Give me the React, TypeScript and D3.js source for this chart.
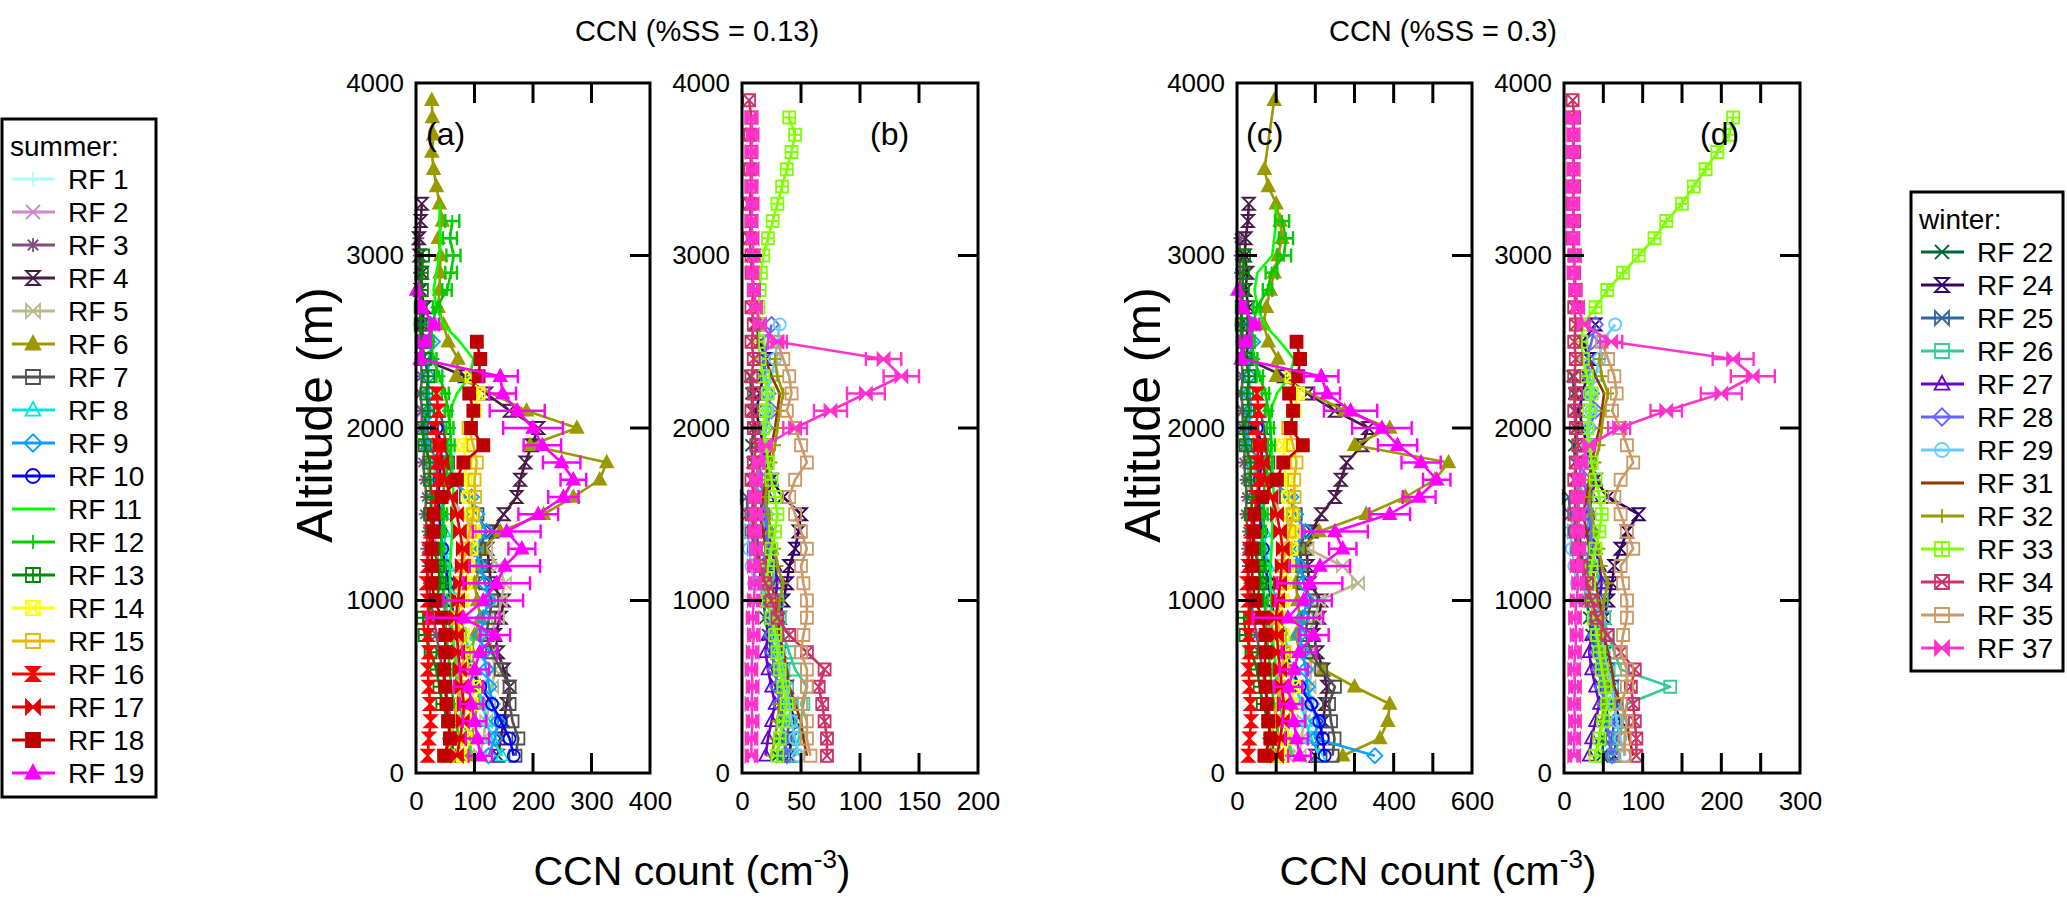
import * as d3 from "d3";
import { useRef, useEffect } from "react";

// altitude bins (m), every series below starts at the first bin
const ALT = [100, 200, 300, 400, 500, 600, 700, 800, 900, 1000, 1100, 1200, 1300, 1400, 1500, 1600, 1700, 1800, 1900, 2000,
  2100, 2200, 2300, 2400, 2500, 2600, 2700, 2800, 2900, 3000, 3100, 3200, 3300, 3400, 3500, 3600, 3700, 3800, 3900];

const summerNames = ["RF 1", "RF 2", "RF 3", "RF 4", "RF 5", "RF 6", "RF 7", "RF 8", "RF 9", "RF 10",
  "RF 11", "RF 12", "RF 13", "RF 14", "RF 15", "RF 16", "RF 17", "RF 18", "RF 19"];
const winterNames = ["RF 22", "RF 24", "RF 25", "RF 26", "RF 27", "RF 28", "RF 29", "RF 31", "RF 32", "RF 33", "RF 34", "RF 35", "RF 37"];

// ---- summer, %SS = 0.13 (panel a)
const rf1_013 = [60, 65, 70, 75, 72, 70, 68, 65, 60, 55, 50, 48, 45, 40, 38, 35, 30, 28];
const rf2_013 = [90, 95, 85, 80, 75, 70, 68, 60, 55, 50, 45, 40, 35, 30, 28, 25, 22, 20, 18, 15, 12];
const rf3_013 = [50, 55, 60, 55, 50, 45, 40, 35, 30, 25, 22, 20, 18, 20, 15, 18, 15, 12, 15, 10, 10, 8, 10, 8, 8, 6, 8, 6, 5, 5, 4];
const rf4_013 = [140, 145, 150, 155, 160, 150, 140, 135, 145, 150, 128, 125, 122, 130, 150, 172, 178, 187, 198, 209, 160, 120, 84, 10, 12, 10, 15, 8, 10, 6, 5, 8, 10];
const rf5_013 = [110, 115, 120, 125, 130, 135, 130, 125, 140, 145, 152, 141, 120, 100, 80, 60, 50, 45, 40, 35];
const rf6_013 = [90, 95, 100, 105, 110, 100, 95, 100, 110, 105, 100, 110, 112, 144, 218, 269, 314, 326, 195, 275, 189, null, 69, 72, 55, 47, 38, 40, 41, 42, 38, 45, 40, 35, 30, 27, 30, 28, 27];
const rf7_013 = [170, 175, 165, 160, 160, 145, 130, 120, 125, 130, 118, 112, 108, 121, 105, 85, 65, 55, 50, 48, 40];
const rf8_013 = [147, 130, 120, 115, 105, 95, 90, 85, 75, 70, 60, 55, 50, 48, 45, 40, 35, 30];
const rf9_013 = [124, 135, 140, 130, 125, 120, 115, 110, 115, 125, 118, 110, 100, 120, 104, 95, 60, 40, 20, 18, 25, 22, 20, 22, 28, 25];
const rf10_013 = [167, 160, 145, 130, 110, 95, 85, 75, 65, 60, 55, 50, 45, 42, 40, 38, 40, 42, 44, 35];
const rf11_013 = [95, 90, 80, 75, 70, 68, 65, 62, 60, 60, 58, 58, 60, 62, 61, 64, 63, 61, 60, 58, 58, 70, 92, 98, 75, 47, 35, 30, 35, 40, 42, 40, 41];
const rf12_013 = [75, 72, 70, 65, 60, 58, 55, 52, 50, 48, 45, 45, 42, 45, 48, 45, 50, 55, 60, 58, 55, 50, 40, 30, 25, 28, 35, 53, 60, 64, 58, 62];
const rf12e_013 = [6, 6, 6, 6, 6, 5, 5, 5, 5, 5, 5, 5, 5, 5, 5, 5, 6, 6, 6, 6, 6, 6, 5, 5, 5, 5, 6, 8, 10, 12, 12, 12];
const rf13_013 = [65, 60, 55, 45, 40, 35, 25, 15, 12, 35, 41, 38, 30, 27, 24, 27, 24, 24, 15, 10, 21, 18, 21, 15, 10, 8, 8, 10, 10, 12];
const rf14_013 = [80, 85, 90, 95, 100, 90, 85, 80, 75, 80, 85, 90, 95, 100, 95, 90, 85, 85, 81, 90, 100, 107, 95];
const rf15_013 = [55, 60, 65, 70, 75, 80, 82, 75, 70, 72, 75, 80, 85, 92, 98, 101, 100, 104, 98, 90];
const rf16_013 = [20, 22, 25, 24, 22, 20, 22, 20, 21, 20, 18, 20, 22, 25, 30, 35, 38, 35, 38, 32, 38, 35];
const rf17_013 = [70, 75, 80, 82, 78, 75, 72, 70, 68, 72, 75, 78, 80, 75, 70, 60, 50, 45, 40];
const rf18_013 = [48, 58, 55, 52, 50, 48, 50, 50, 44, 32, 27, 27, 27, 30, 30, 44, 70, 81, 115, 94, 98, 91, 107, 110, 104];
const rf19_013 = [110, 105, 100, 95, 90, 100, 109, 135, 81, 115, 138, 152, 181, 155, 209, 252, 269, 249, 216, 200, 173, 148, 144, 7, 15, 31, 10, 1];
const rf19e_013 = [20, 20, 20, 20, 25, 25, 30, 26, 62, 68, 57, 60, 23, 58, 34, 26, 22, 32, 32, 51, 47, 23, 30, 5, 10, 8, 5, 5];

// ---- summer, %SS = 0.3 (panel c)
const rf1_030 = [85, 95, 100, 105, 100, 98, 95, 90, 85, 78, 70, 68, 62, 55, 52, 48, 42, 40];
const rf2_030 = [130, 135, 120, 115, 108, 100, 95, 85, 78, 70, 62, 56, 50, 42, 40, 35, 30, 28, 25, 20, 17];
const rf3_030 = [75, 80, 85, 80, 72, 65, 58, 50, 42, 36, 32, 28, 26, 28, 22, 25, 22, 18, 20, 15, 14, 12, 14, 12, 11, 9, 12, 9, 8, 7, 6];
const rf4_030 = [200, 210, 220, 225, 230, 220, 205, 195, 210, 215, 185, 180, 178, 190, 215, 250, 265, 280, 320, 335, 250, 180, 120, 25, 28, 25, 30, 22, 26, 20, 22, 28, 30];
const rf5_030 = [160, 165, 170, 180, 185, 190, 185, 180, 200, 210, 309, 270, 180, 145, 115, 88, 72, 65, 58, 50];
const rf6_030 = [270, 365, 385, 390, 300, 220, 160, 150, 160, 155, 150, 160, 165, 210, 330, 430, 505, 540, 300, 390, 275, null, 100, 105, 80, 68, 75, 85, 95, 105, 115, 110, 100, 80, 70, null, null, null, 95];
const rf7_030 = [244, 249, 240, 235, 250, 215, 190, 175, 180, 190, 170, 165, 160, 175, 150, 125, 95, 80, 72, 70, 58];
const rf8_030 = [210, 190, 175, 165, 150, 138, 130, 122, 110, 100, 88, 80, 72, 70, 65, 58, 50, 44];
const rf9_030 = [352, 200, 205, 190, 180, 175, 168, 160, 168, 180, 172, 160, 145, 175, 150, 138, 88, 60, 30, 27, 36, 32, 30, 32, 40, 36];
const rf10_030 = [224, 219, 210, 190, 160, 140, 125, 110, 95, 88, 80, 72, 66, 62, 58, 55, 58, 62, 64, 50];
const rf11_030 = [140, 132, 118, 110, 102, 100, 95, 90, 88, 88, 85, 85, 88, 90, 90, 94, 92, 90, 88, 85, 85, 102, 135, 145, 110, 70, 52, 45, 52, 90, 95, 100, 98];
const rf12_030 = [110, 105, 102, 95, 88, 85, 80, 76, 73, 70, 66, 66, 62, 66, 70, 66, 73, 80, 88, 85, 80, 73, 58, 44, 37, 41, 51, 78, 88, 120, 125, 115];
const rf12e_030 = [9, 9, 9, 9, 9, 8, 8, 8, 8, 8, 8, 8, 8, 8, 8, 8, 9, 9, 9, 9, 9, 9, 8, 8, 8, 8, 9, 12, 15, 18, 18, 18];
const rf13_030 = [95, 88, 80, 66, 58, 51, 37, 22, 18, 51, 60, 55, 44, 40, 35, 40, 35, 35, 22, 15, 31, 26, 31, 22, 15, 12, 12, 15, 15, 18];
const rf14_030 = [117, 124, 131, 139, 146, 131, 124, 117, 110, 117, 124, 131, 139, 146, 139, 131, 124, 124, 118, 131, 146, 156, 139];
const rf15_030 = [80, 88, 95, 102, 110, 117, 120, 110, 102, 105, 110, 117, 124, 134, 143, 147, 146, 152, 143, 131];
const rf16_030 = [29, 32, 36, 35, 32, 29, 32, 29, 31, 29, 26, 29, 32, 36, 44, 51, 55, 51, 55, 47, 55, 51];
const rf17_030 = [102, 110, 117, 120, 114, 110, 105, 102, 99, 105, 110, 114, 117, 110, 102, 88, 73, 66, 58];
const rf18_030 = [70, 85, 80, 76, 73, 70, 73, 73, 64, 47, 39, 39, 39, 44, 44, 64, 102, 118, 168, 137, 143, 133, 156, 161, 152];
const rf19_030 = [160, 152, 145, 138, 131, 145, 158, 196, 130, 170, 186, 212, 270, 250, 390, 465, 510, 470, 410, 370, 290, 230, 215, 10, 22, 45, 15, 2];
const rf19e_030 = [29, 29, 29, 29, 36, 36, 44, 38, 90, 72, 83, 77, 35, 84, 52, 42, 35, 50, 50, 76, 68, 33, 44, 7, 15, 12, 7, 7];

// ---- winter, %SS = 0.13 (panel b)
const rf22_013 = [30, 32, 35, 33, 30, 28, 25, 22, 20, 18, 16, 15, 14, 12, 10, 12, 10, 9, 8, 10, 9, 8, 7];
const rf24_013 = [40, 42, 45, 40, 38, 35, 33, 30, 32, 35, 38, 40, 45, 48, 50, 35, 25, 20, 18, 15, 12, 15, 18, 20, 15, 12];
const rf25_013 = [35, 38, 40, 42, 38, 35, 30, 28, 25, 22, 18, 15, 10, 8, 5, 4];
const rf26_013 = [45, 48, 50, 52, 55, 45, 40, 35, 32, 30, 28, 25, 22, 20, 18, 15, 12];
const rf27_013 = [20, 22, 25, 28, 25, 22, 20, 22, 25, 28, 30, 28, 25, 22, 20, 22, 25, 20, 18];
const rf28_013 = [38, 36, 34, 32, 30, 28, 26, 25, 24, 22, 20, 18, 20, 22, 20, 18, 16, 15, 18, 20, 25, 22, 20, 18, 22, 25];
const rf29_013 = [48, 45, 42, 40, 38, 35, 32, 30, 28, 25, 10, 8, 6, 5, 8, 10, 12, 15, 18, 20, 22, 20, 25, 28, 30, 32];
const rf31_013 = [55, 52, 50, 45, 40, 38, 35, 32, 30, 28, 25, 22, 20, 18, 15, 18, 20, 22, 25, 28, 30, 32, 25, 20];
const rf32_013 = [25, 28, 30, 32, 35, 32, 30, 28, 30, 32, 35, 30, 28, 25, 22, 20, 22, 25, 28, 30, 32, 35, 30, 28];
const rf33_013 = [30, 32, 35, 38, 35, 32, 30, 28, 25, 22, 20, 22, 25, 28, 30, 28, 25, 22, 20, 18, 20, 22, 18, 15, 14, 15, 14, 15, 16, 18, 22, 26, 30, 34, 38, 42, 45, 40];
const rf34_013 = [72, 72, 70, 68, 65, 70, 55, 40, 30, 25, 20, 15, 12, 10, 8, 10, 8, 10, 12, 10, 8, 10, 8, 10, 8, 10, 8, 10, 8, 8, 6, 8, 6, 8, 7, 8, 7, 8, 6];
const rf35_013 = [58, 55, 55, 50, 55, 55, 50, 52, 55, 55, 52, 50, 55, 50, 45, 40, 45, 55, 50, 45, 38, 42, 40, 35, 30];
const rf37_013 = [8, 8, 9, 8, 9, 8, 9, 10, 9, 10, 11, 10, 12, 11, 12, 11, 12, 14, 20, 45, 75, 105, 135, 120, 30, 15, 12, 10, 9, 10, 9, 8, 9, 8, 9, 8, 9, 8];
const rf37e_013 = [3, 3, 3, 3, 3, 3, 3, 3, 3, 3, 3, 3, 3, 3, 3, 3, 3, 4, 5, 10, 14, 16, 15, 15, 8, 5, 4, 3, 3, 3, 3, 3, 3, 3, 3, 3, 3, 3];

// ---- winter, %SS = 0.3 (panel d)
const rf22_030 = [48, 51, 56, 53, 48, 45, 40, 35, 32, 29, 26, 24, 22, 19, 16, 19, 16, 14, 13, 16, 14, 13, 11];
const rf24_030 = [64, 67, 72, 64, 61, 56, 53, 48, 51, 56, 61, 64, 72, 80, 95, 56, 40, 32, 29, 24, 19, 24, 29, 32, 24, 40];
const rf25_030 = [56, 61, 64, 67, 61, 56, 48, 45, 40, 35, 29, 24, 16, 13, 8, 6];
const rf26_030 = [64, 70, 75, 80, 135, 72, 64, 56, 51, 48, 45, 40, 35, 32, 29, 24, 19];
const rf27_030 = [32, 35, 40, 45, 40, 35, 32, 35, 40, 45, 48, 45, 40, 35, 32, 35, 40, 32, 29];
const rf28_030 = [61, 58, 54, 51, 48, 45, 42, 40, 38, 35, 32, 29, 32, 35, 32, 29, 26, 24, 29, 32, 40, 35, 32, 29, 35, 40];
const rf29_030 = [77, 72, 67, 64, 61, 56, 51, 48, 45, 40, 16, 13, 10, 8, 13, 16, 19, 24, 29, 32, 35, 32, 40, 45, 48, 65];
const rf31_030 = [88, 83, 80, 72, 64, 61, 56, 51, 48, 45, 40, 35, 32, 29, 24, 29, 32, 35, 40, 45, 48, 51, 40, 32];
const rf32_030 = [40, 45, 48, 51, 56, 51, 48, 45, 48, 51, 56, 48, 45, 40, 35, 32, 35, 40, 45, 48, 51, 56, 48, 45];
const rf33_030 = [40, 45, 50, 55, 52, 48, 45, 42, 38, 35, 32, 35, 40, 45, 48, 45, 40, 35, 32, 29, 32, 35, 29, 24, 22, 24, 40, 55, 75, 95, 115, 130, 150, 165, 180, 195, 210, 215];
const rf34_030 = [92, 92, 90, 88, 85, 90, 72, 55, 42, 35, 29, 22, 18, 15, 13, 15, 13, 15, 18, 15, 13, 15, 13, 15, 13, 15, 13, 15, 13, 13, 11, 13, 11, 13, 12, 13, 12, 13, 11];
const rf35_030 = [77, 77, 80, 72, 80, 80, 72, 75, 80, 80, 75, 72, 88, 80, 72, 64, 72, 88, 80, 72, 61, 67, 64, 56, 48];
const rf37_030 = [13, 13, 14, 13, 14, 13, 14, 16, 14, 16, 18, 16, 19, 18, 19, 18, 19, 22, 32, 70, 130, 200, 240, 215, 60, 25, 18, 14, 12, 14, 12, 11, 12, 11, 12, 11, 12, 11];
const rf37e_030 = [4, 4, 4, 4, 4, 4, 4, 4, 4, 4, 4, 4, 4, 4, 4, 4, 4, 5, 7, 14, 20, 26, 28, 26, 14, 6, 5, 4, 4, 4, 4, 4, 4, 4, 4, 4, 4, 4];

const summer013 = [rf1_013, rf2_013, rf3_013, rf4_013, rf5_013, rf6_013, rf7_013, rf8_013, rf9_013, rf10_013,
  rf11_013, rf12_013, rf13_013, rf14_013, rf15_013, rf16_013, rf17_013, rf18_013, rf19_013];
const summer030 = [rf1_030, rf2_030, rf3_030, rf4_030, rf5_030, rf6_030, rf7_030, rf8_030, rf9_030, rf10_030,
  rf11_030, rf12_030, rf13_030, rf14_030, rf15_030, rf16_030, rf17_030, rf18_030, rf19_030];
const winter013 = [rf22_013, rf24_013, rf25_013, rf26_013, rf27_013, rf28_013, rf29_013, rf31_013, rf32_013, rf33_013, rf34_013, rf35_013, rf37_013];
const winter030 = [rf22_030, rf24_030, rf25_030, rf26_030, rf27_030, rf28_030, rf29_030, rf31_030, rf32_030, rf33_030, rf34_030, rf35_030, rf37_030];

const errors013 = { "RF 12": rf12e_013, "RF 19": rf19e_013, "RF 37": rf37e_013 };
const errors030 = { "RF 12": rf12e_030, "RF 19": rf19e_030, "RF 37": rf37e_030 };

// line/marker look per flight
const summerStyle = [
  ["#a8ffff", "plus", false], ["#cc88cc", "cross", false], ["#7f4f7f", "star", false], ["#4a1a48", "hourglass", false],
  ["#b9b98a", "bowtie", false], ["#9a9a00", "triangle", true], ["#505050", "square", false], ["#00e5e5", "triangle", false],
  ["#0aa0ff", "diamond", false], ["#0000ff", "circle", false], ["#00ff00", "none", false], ["#00cc00", "plus", false],
  ["#008800", "squarePlus", false], ["#ffff00", "squareX", false], ["#e6b800", "square", false], ["#ff0000", "hourglass", true],
  ["#e00000", "bowtie", true], ["#c00000", "square", true], ["#ff00ff", "triangle", true],
];
const winterStyle = [
  ["#006633", "cross", false], ["#330066", "hourglass", false], ["#336699", "bowtie", false], ["#33cc99", "square", false],
  ["#6600cc", "triangle", false], ["#6666ff", "diamond", false], ["#66ccff", "circle", false], ["#993300", "none", false],
  ["#999900", "plus", false], ["#80ff00", "squarePlus", false], ["#cc3366", "squareX", false], ["#cc9966", "square", false],
  ["#ff33cc", "bowtie", true],
];

const FONT = "Liberation Sans, Arial, Helvetica, sans-serif";
const Y_TOP = 83;
const Y_BOT = 773;

function markerPath(m, s) {
  const sq = `M${-s},${-s}H${s}V${s}H${-s}Z`;
  switch (m) {
    case "plus": return `M${-s},0H${s}M0,${-s}V${s}`;
    case "cross": return `M${-s},${-s}L${s},${s}M${-s},${s}L${s},${-s}`;
    case "star": {
      const k = s * 0.75;
      return `M${-s},0H${s}M0,${-s}V${s}M${-k},${-k}L${k},${k}M${-k},${k}L${k},${-k}`;
    }
    case "hourglass": return `M${-s},${-s}H${s}L${-s},${s}H${s}Z`;
    case "bowtie": return `M${-s},${-s}V${s}L${s},${-s}V${s}Z`;
    case "triangle": return `M0,${-s * 1.15}L${s * 1.05},${s * 0.8}H${-s * 1.05}Z`;
    case "square": return sq;
    case "squarePlus": return sq + `M0,${-s}V${s}M${-s},0H${s}`;
    case "squareX": return sq + `M${-s},${-s}L${s},${s}M${-s},${s}L${s},${-s}`;
    case "diamond": {
      const k = s * 1.25;
      return `M0,${-k}L${k},0L0,${k}L${-k},0Z`;
    }
    case "circle": return `M${s},0A${s},${s} 0 1,1 ${-s},0A${s},${s} 0 1,1 ${s},0Z`;
    default: return "";
  }
}

function drawPanel(svg, { x0, x1, xmax, ticks, labels, names, styles, values, errors, tag, tagX }) {
  const x = d3.scaleLinear().domain([0, xmax]).range([x0, x1]);
  const y = d3.scaleLinear().domain([0, 4000]).range([Y_BOT, Y_TOP]);
  const g = svg.append("g");

  values.forEach((vals, k) => {
    const [color, marker, filled] = styles[k];
    const err = errors[names[k]];
    const pts = vals
      .map((v, i) => (v == null ? null : { v, alt: ALT[i], e: err ? err[i] : 0 }))
      .filter(Boolean);
    const s = g.append("g");

    s.append("path")
      .datum(pts)
      .attr("fill", "none")
      .attr("stroke", color)
      .attr("stroke-width", 2.6)
      .attr("stroke-linejoin", "round")
      .attr("d", d3.line().x((d) => x(d.v)).y((d) => y(d.alt)));

    if (err) {
      s.selectAll(null)
        .data(pts)
        .join("path")
        .attr("fill", "none")
        .attr("stroke", color)
        .attr("stroke-width", 2.4)
        .attr("d", (d) => {
          const a = x(Math.max(0, d.v - d.e)), b = x(d.v + d.e), yy = y(d.alt);
          return `M${a},${yy}H${b}M${a},${yy - 7}V${yy + 7}M${b},${yy - 7}V${yy + 7}`;
        });
    }

    if (marker !== "none") {
      s.selectAll(null)
        .data(pts)
        .join("path")
        .attr("transform", (d) => `translate(${x(d.v)},${y(d.alt)})`)
        .attr("d", markerPath(marker, 6))
        .attr("fill", filled ? color : "none")
        .attr("stroke", color)
        .attr("stroke-width", 1.8);
    }
  });

  // frame
  g.append("rect")
    .attr("x", x0).attr("y", Y_TOP)
    .attr("width", x1 - x0).attr("height", Y_BOT - Y_TOP)
    .attr("fill", "none").attr("stroke", "#000").attr("stroke-width", 3);

  // inward ticks on all four sides
  const tk = g.append("g").attr("stroke", "#000").attr("stroke-width", 3);
  ticks.forEach((t) => {
    tk.append("line").attr("x1", x(t)).attr("x2", x(t)).attr("y1", Y_BOT).attr("y2", Y_BOT - 20);
    tk.append("line").attr("x1", x(t)).attr("x2", x(t)).attr("y1", Y_TOP).attr("y2", Y_TOP + 20);
  });
  [1000, 2000, 3000].forEach((t) => {
    tk.append("line").attr("x1", x0).attr("x2", x0 + 20).attr("y1", y(t)).attr("y2", y(t));
    tk.append("line").attr("x1", x1).attr("x2", x1 - 20).attr("y1", y(t)).attr("y2", y(t));
  });

  g.append("g")
    .attr("transform", `translate(0,${Y_BOT})`)
    .call(d3.axisBottom(x).tickValues(labels).tickSize(0).tickPadding(19).tickFormat(d3.format("d")))
    .call((a) => a.select(".domain").remove())
    .attr("font-family", FONT)
    .attr("font-size", 26);

  g.append("g")
    .attr("transform", `translate(${x0},0)`)
    .call(d3.axisLeft(y).tickValues([0, 1000, 2000, 3000, 4000]).tickSize(0).tickPadding(12).tickFormat(d3.format("d")))
    .call((a) => a.select(".domain").remove())
    .attr("font-family", FONT)
    .attr("font-size", 26);

  g.append("text")
    .attr("x", tagX).attr("y", 145)
    .attr("font-family", FONT).attr("font-size", 32)
    .text(tag);
}

function drawLegend(svg, { x, y, w, h, header, names, styles }) {
  const g = svg.append("g").attr("font-family", FONT);
  g.append("rect").attr("x", x).attr("y", y).attr("width", w).attr("height", h)
    .attr("fill", "#fff").attr("stroke", "#000").attr("stroke-width", 3);
  g.append("text").attr("x", x + 8).attr("y", y + 37).attr("font-size", 28).text(header);
  names.forEach((name, i) => {
    const [color, marker, filled] = styles[i];
    const cy = y + 60 + i * 33;
    g.append("line").attr("x1", x + 10).attr("x2", x + 53).attr("y1", cy).attr("y2", cy)
      .attr("stroke", color).attr("stroke-width", 3);
    if (marker !== "none") {
      g.append("path").attr("transform", `translate(${x + 31},${cy})`)
        .attr("d", markerPath(marker, 7))
        .attr("fill", filled ? color : "none")
        .attr("stroke", color).attr("stroke-width", 1.8);
    }
    g.append("text").attr("x", x + 66).attr("y", cy + 10).attr("font-size", 28).text(name);
  });
}

export default function App() {
  const svgRef = useRef(null);

  useEffect(() => {
    const svg = d3.select(svgRef.current);
    svg.selectAll("*").remove();

    svg.append("rect").attr("width", 2067).attr("height", 900).attr("fill", "#fff");

    drawPanel(svg, { x0: 416, x1: 650, xmax: 400, ticks: [100, 200, 300], labels: [0, 100, 200, 300, 400],
      names: summerNames, styles: summerStyle, values: summer013, errors: errors013, tag: "(a)", tagX: 426 });
    drawPanel(svg, { x0: 742, x1: 978, xmax: 200, ticks: [50, 100, 150], labels: [0, 50, 100, 150, 200],
      names: winterNames, styles: winterStyle, values: winter013, errors: errors013, tag: "(b)", tagX: 870 });
    drawPanel(svg, { x0: 1237, x1: 1472, xmax: 600, ticks: [100, 200, 300, 400, 500], labels: [0, 200, 400, 600],
      names: summerNames, styles: summerStyle, values: summer030, errors: errors030, tag: "(c)", tagX: 1246 });
    drawPanel(svg, { x0: 1564, x1: 1800, xmax: 300, ticks: [50, 100, 150, 200, 250], labels: [0, 100, 200, 300],
      names: winterNames, styles: winterStyle, values: winter030, errors: errors030, tag: "(d)", tagX: 1700 });

    const txt = svg.append("g").attr("font-family", FONT).attr("text-anchor", "middle");
    [["CCN (%SS = 0.13)", 697], ["CCN (%SS = 0.3)", 1443]].forEach(([t, cx]) => {
      txt.append("text").attr("x", cx).attr("y", 41).attr("font-size", 29).text(t);
    });
    [692, 1438].forEach((cx) => {
      const t = txt.append("text").attr("x", cx).attr("y", 885).attr("font-size", 41);
      t.append("tspan").text("CCN count (cm");
      t.append("tspan").attr("font-size", 26).attr("dy", -17).text("-3");
      t.append("tspan").attr("dy", 17).text(")");
    });
    [315, 1143].forEach((cx) => {
      txt.append("text")
        .attr("transform", `translate(${cx + 17},415) rotate(-90)`)
        .attr("font-size", 50)
        .text("Altitude (m)");
    });

    drawLegend(svg, { x: 2, y: 119, w: 154, h: 678, header: "summer:", names: summerNames, styles: summerStyle });
    drawLegend(svg, { x: 1911, y: 192, w: 152, h: 479, header: "winter:", names: winterNames, styles: winterStyle });
  }, []);

  return (
    <svg ref={svgRef} width={2067} height={900} style={{ position: "absolute", left: 0, top: 0 }} />
  );
}
